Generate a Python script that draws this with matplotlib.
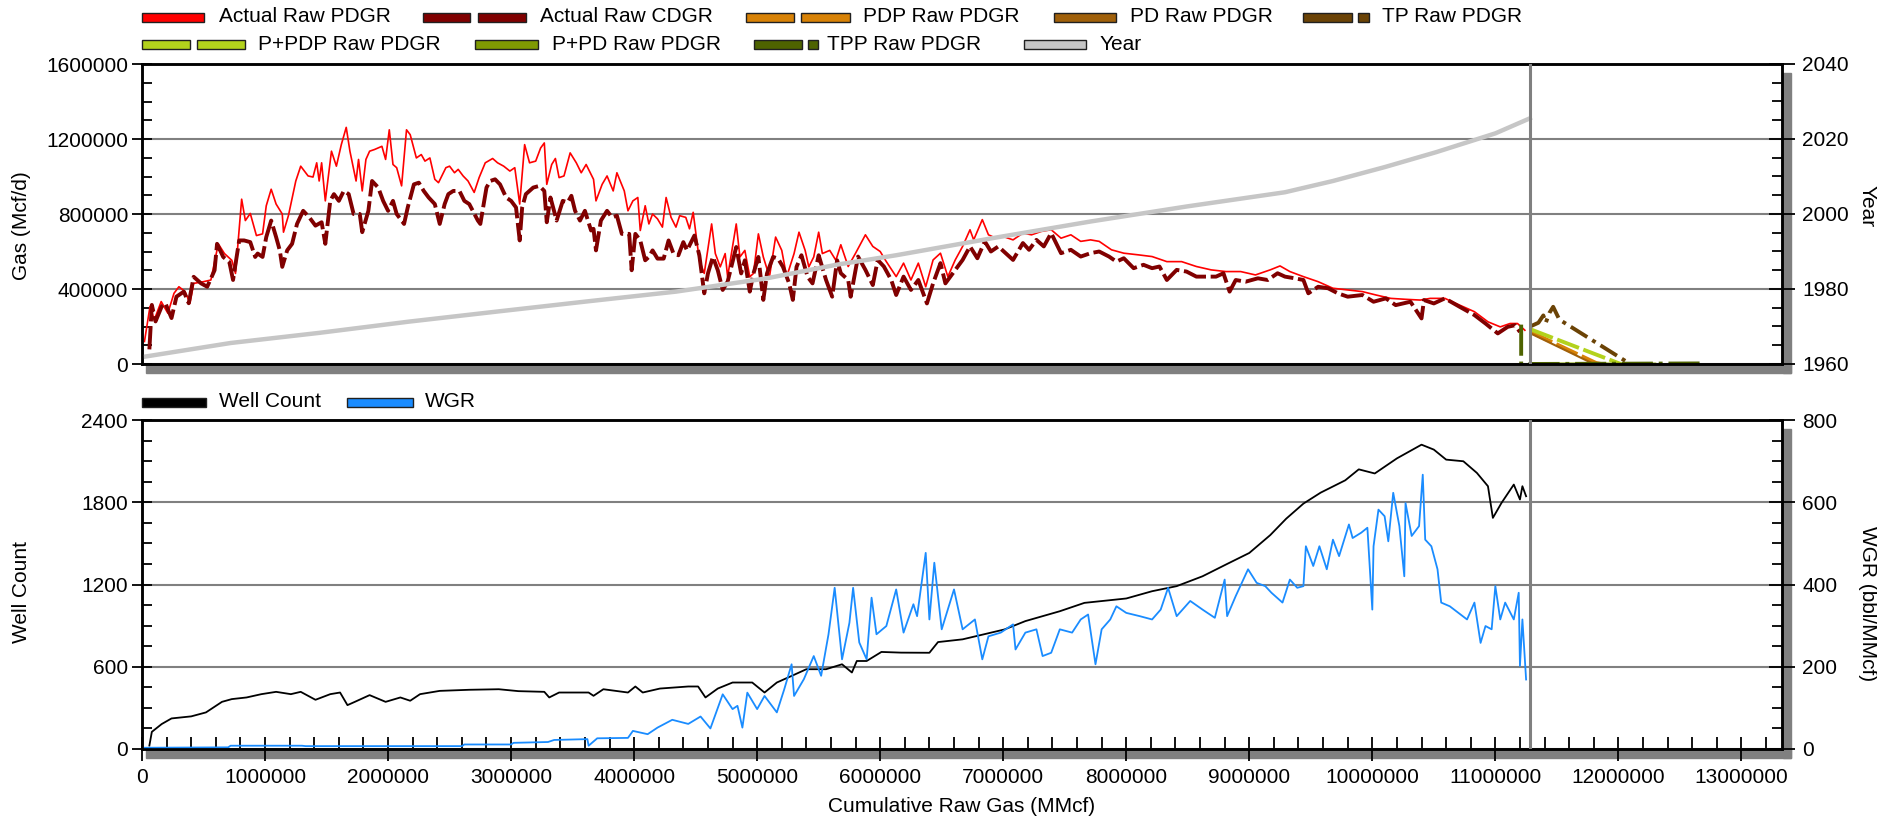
import matplotlib
matplotlib.use("Agg")
import matplotlib.pyplot as plt
from matplotlib.patches import Rectangle
from matplotlib.ticker import MultipleLocator, FuncFormatter

plt.rcParams['font.family'] = ['Liberation Sans', 'DejaVu Sans']
plt.rcParams['font.size'] = 15

# data: (cumulative raw gas in million MMcf, value)
# gas rates in thousand Mcf/d
actual_pdgr = [
    (0.02, 120), (0.065, 307), (0.10, 236), (0.156, 333), (0.21, 271), (0.26, 377), (0.30, 412),
    (0.35, 386), (0.39, 324), (0.42, 430), (0.50, 439), (0.56, 448), (0.62, 641), (0.67, 589),
    (0.73, 553), (0.76, 483), (0.81, 879), (0.84, 765), (0.88, 803), (0.93, 685), (0.98, 694),
    (1.01, 844), (1.05, 932), (1.09, 853), (1.14, 800), (1.15, 703), (1.19, 791), (1.25, 976),
    (1.29, 1055), (1.35, 1003), (1.39, 997), (1.42, 1073), (1.44, 976), (1.46, 1073), (1.49, 870),
    (1.54, 1135), (1.58, 1055), (1.62, 1170), (1.66, 1262), (1.69, 1135), (1.74, 976), (1.76, 1091),
    (1.79, 923), (1.82, 1091), (1.85, 1135), (1.89, 1144), (1.95, 1161), (1.98, 1091), (2.01, 1249),
    (2.04, 1064), (2.07, 1047), (2.11, 950), (2.15, 1249), (2.18, 1223), (2.23, 1099), (2.27, 1117),
    (2.30, 1082), (2.34, 1099), (2.38, 985), (2.41, 967), (2.47, 1047), (2.50, 1055), (2.54, 1020),
    (2.57, 1038), (2.61, 1003), (2.65, 976), (2.70, 915), (2.74, 994), (2.79, 1073), (2.85, 1096),
    (2.89, 1073), (2.94, 1055), (2.99, 1029), (3.03, 1047), (3.07, 853), (3.11, 1170), (3.15, 1073),
    (3.20, 1082), (3.24, 1152), (3.27, 1179), (3.29, 958), (3.33, 1064), (3.36, 1096), (3.39, 994),
    (3.43, 1003), (3.48, 1126), (3.53, 1073), (3.57, 1020), (3.61, 1064), (3.67, 985), (3.69, 870),
    (3.74, 958), (3.78, 1003), (3.83, 923), (3.86, 1020), (3.92, 923), (3.95, 817), (3.99, 870),
    (4.03, 888), (4.05, 712), (4.09, 844), (4.12, 747), (4.15, 800), (4.19, 774), (4.23, 730),
    (4.26, 888), (4.30, 782), (4.34, 730), (4.37, 791), (4.42, 782), (4.45, 721), (4.48, 809),
    (4.53, 553), (4.57, 483), (4.63, 747), (4.66, 589), (4.70, 518), (4.74, 589), (4.76, 465),
    (4.83, 747), (4.86, 571), (4.90, 606), (4.94, 465), (4.97, 483), (5.01, 694), (5.05, 571),
    (5.10, 465), (5.15, 677), (5.20, 606), (5.24, 465), (5.30, 589), (5.34, 703), (5.39, 606),
    (5.42, 518), (5.46, 571), (5.50, 703), (5.53, 589), (5.59, 606), (5.64, 553), (5.68, 636),
    (5.74, 520), (5.80, 591), (5.88, 689), (5.94, 627), (6.00, 600), (6.05, 546), (6.13, 466),
    (6.19, 538), (6.25, 448), (6.31, 538), (6.37, 412), (6.43, 555), (6.49, 591), (6.55, 466),
    (6.61, 555), (6.67, 627), (6.73, 716), (6.76, 662), (6.83, 770), (6.88, 689), (6.94, 671),
    (7.00, 680), (7.08, 662), (7.16, 698), (7.23, 689), (7.31, 707), (7.39, 716), (7.47, 671),
    (7.55, 689), (7.63, 654), (7.71, 662), (7.78, 654), (7.88, 609), (7.98, 591), (8.10, 582),
    (8.21, 573), (8.33, 546), (8.45, 546), (8.57, 520), (8.69, 502), (8.81, 493), (8.93, 493),
    (9.05, 475), (9.17, 502), (9.25, 523), (9.33, 493), (9.44, 466), (9.56, 439), (9.68, 404),
    (9.80, 395), (9.92, 386), (10.03, 368), (10.15, 350), (10.27, 345), (10.39, 341), (10.47, 350),
    (10.59, 350), (10.71, 314), (10.83, 279), (10.94, 225), (11.04, 198), (11.12, 216), (11.18, 216),
    (11.24, 180),
]

actual_cdgr = [
    (0.06, 78), (0.08, 315), (0.11, 227), (0.16, 307), (0.19, 324), (0.24, 245), (0.28, 359),
    (0.34, 386), (0.38, 324), (0.42, 465), (0.48, 430), (0.53, 412), (0.59, 500), (0.61, 641),
    (0.66, 571), (0.71, 544), (0.74, 448), (0.79, 659), (0.83, 659), (0.88, 650), (0.92, 571),
    (0.94, 589), (0.98, 571), (1.01, 677), (1.05, 765), (1.09, 677), (1.12, 606), (1.14, 518),
    (1.18, 606), (1.22, 641), (1.26, 747), (1.31, 817), (1.36, 782), (1.41, 738), (1.46, 756),
    (1.49, 641), (1.53, 870), (1.56, 906), (1.60, 870), (1.64, 923), (1.68, 906), (1.72, 800),
    (1.77, 800), (1.79, 703), (1.84, 817), (1.87, 976), (1.92, 941), (1.96, 870), (2.00, 817),
    (2.04, 870), (2.07, 800), (2.13, 747), (2.16, 835), (2.21, 958), (2.25, 967), (2.29, 923),
    (2.33, 888), (2.38, 853), (2.42, 747), (2.46, 853), (2.49, 906), (2.53, 923), (2.58, 923),
    (2.62, 870), (2.66, 853), (2.73, 765), (2.75, 747), (2.80, 941), (2.83, 976), (2.87, 985),
    (2.91, 958), (2.96, 888), (3.00, 870), (3.04, 835), (3.07, 659), (3.09, 835), (3.12, 906),
    (3.18, 941), (3.23, 950), (3.27, 923), (3.29, 756), (3.32, 888), (3.37, 765), (3.42, 870),
    (3.46, 862), (3.49, 897), (3.52, 817), (3.56, 765), (3.60, 817), (3.65, 712), (3.67, 721),
    (3.69, 606), (3.73, 765), (3.78, 817), (3.82, 782), (3.86, 791), (3.90, 694), (3.96, 694),
    (3.98, 500), (4.01, 694), (4.05, 659), (4.09, 553), (4.12, 571), (4.15, 606), (4.19, 562),
    (4.24, 562), (4.28, 659), (4.32, 589), (4.36, 580), (4.40, 650), (4.43, 606), (4.49, 685),
    (4.53, 580), (4.57, 377), (4.60, 483), (4.64, 571), (4.68, 500), (4.72, 395), (4.76, 439),
    (4.79, 518), (4.83, 624), (4.87, 483), (4.90, 553), (4.94, 386), (4.97, 483), (5.01, 571),
    (5.05, 342), (5.08, 483), (5.13, 571), (5.17, 562), (5.21, 518), (5.26, 430), (5.29, 342),
    (5.32, 518), (5.36, 580), (5.41, 465), (5.45, 430), (5.50, 580), (5.56, 448), (5.61, 359),
    (5.65, 553), (5.68, 484), (5.74, 448), (5.76, 359), (5.82, 573), (5.88, 502), (5.94, 421),
    (5.98, 555), (6.03, 520), (6.09, 448), (6.13, 368), (6.19, 466), (6.25, 395), (6.31, 448),
    (6.38, 323), (6.43, 430), (6.49, 538), (6.53, 430), (6.61, 502), (6.67, 555), (6.73, 627),
    (6.79, 564), (6.85, 654), (6.90, 600), (6.96, 627), (7.02, 591), (7.08, 555), (7.16, 645),
    (7.21, 609), (7.27, 662), (7.33, 627), (7.39, 698), (7.47, 591), (7.55, 609), (7.63, 573),
    (7.71, 591), (7.78, 600), (7.86, 573), (7.92, 546), (7.98, 564), (8.06, 511), (8.14, 529),
    (8.21, 511), (8.27, 520), (8.33, 448), (8.41, 502), (8.49, 493), (8.57, 466), (8.65, 466),
    (8.73, 466), (8.79, 484), (8.84, 386), (8.89, 448), (8.97, 439), (9.07, 457), (9.15, 448),
    (9.23, 484), (9.29, 466), (9.37, 457), (9.44, 448), (9.48, 377), (9.56, 412), (9.64, 404),
    (9.72, 377), (9.80, 359), (9.92, 368), (10.01, 332), (10.11, 350), (10.19, 314), (10.31, 332),
    (10.40, 243), (10.42, 341), (10.50, 323), (10.59, 350), (10.71, 305), (10.83, 261), (10.92, 216),
    (11.02, 163), (11.10, 198), (11.16, 207), (11.20, 171),
]

pdp_pdgr = [(11.29, 170), (11.82, 5), (11.86, 0)]
pd_pdgr = [(11.29, 162), (11.80, 0)]
tp_pdgr = [(11.29, 202), (11.35, 220), (11.39, 259), (11.41, 220), (11.44, 273), (11.47, 305),
           (11.52, 237), (12.06, 15), (12.10, 0)]
p_pdp_pdgr = [(11.29, 184), (11.98, 10), (12.02, 0)]
p_pd_pdgr = [(11.29, 3), (12.30, 2)]
tpp_pdgr = [(11.21, 210), (11.21, 0), (12.68, 3)]

year = [(0.03, 1962), (0.72, 1965.6), (1.44, 1968.3), (2.17, 1971.3), (2.89, 1974), (3.62, 1976.7),
        (4.34, 1979.3), (5.07, 1982.8), (5.65, 1986.5), (6.13, 1989), (6.92, 1993.6), (7.71, 1998),
        (8.10, 2000), (8.49, 2002), (9.29, 2005.8), (9.68, 2008.8), (10.10, 2012.5), (10.52, 2016.5),
        (11.00, 2021.5), (11.28, 2025.5)]

well_count = [
    (0.06, 25), (0.08, 125), (0.16, 182), (0.24, 223), (0.40, 238), (0.52, 267), (0.65, 344),
    (0.73, 364), (0.85, 376), (0.97, 400), (1.09, 417), (1.21, 400), (1.29, 417), (1.41, 359),
    (1.53, 400), (1.61, 412), (1.67, 320), (1.73, 344), (1.85, 393), (1.98, 344), (2.10, 376),
    (2.18, 352), (2.26, 400), (2.42, 424), (2.66, 432), (2.90, 436), (3.06, 422), (3.27, 417),
    (3.31, 376), (3.39, 412), (3.63, 412), (3.67, 388), (3.75, 436), (3.95, 412), (4.01, 456),
    (4.07, 412), (4.21, 441), (4.44, 456), (4.52, 456), (4.58, 376), (4.68, 441), (4.80, 485),
    (4.96, 485), (5.06, 412), (5.16, 485), (5.28, 533), (5.40, 582), (5.56, 582), (5.69, 618),
    (5.77, 558), (5.81, 642), (5.89, 642), (6.01, 708), (6.17, 703), (6.40, 702), (6.47, 780),
    (6.67, 800), (7.01, 872), (7.18, 933), (7.46, 1005), (7.66, 1066), (8.00, 1098), (8.21, 1151),
    (8.41, 1188), (8.62, 1260), (8.82, 1350), (9.00, 1430), (9.17, 1560), (9.30, 1680), (9.44, 1790),
    (9.58, 1870), (9.78, 1960), (9.89, 2040), (10.02, 2010), (10.20, 2120), (10.40, 2220),
    (10.50, 2184), (10.60, 2111), (10.74, 2099), (10.85, 2014), (10.94, 1917), (10.98, 1686),
    (11.05, 1795), (11.15, 1929), (11.20, 1820), (11.22, 1917), (11.25, 1844),
]

wgr = [
    (0.02, 3), (0.70, 4), (0.72, 8), (1.30, 8), (1.33, 7), (2.60, 7), (2.62, 11), (3.00, 11),
    (3.02, 15), (3.30, 17), (3.35, 22), (3.62, 24), (3.63, 8), (3.70, 26), (3.95, 27), (3.99, 44),
    (4.11, 36), (4.19, 52), (4.31, 71), (4.44, 61), (4.54, 79), (4.62, 50), (4.72, 133), (4.80, 97),
    (4.84, 105), (4.88, 52), (4.92, 137), (5.00, 97), (5.06, 129), (5.16, 89), (5.22, 145),
    (5.28, 206), (5.30, 129), (5.38, 170), (5.46, 226), (5.52, 178), (5.58, 279), (5.63, 392),
    (5.69, 218), (5.75, 307), (5.78, 392), (5.83, 259), (5.89, 218), (5.93, 368), (5.97, 279),
    (6.05, 299), (6.13, 388), (6.19, 283), (6.27, 352), (6.30, 323), (6.37, 477), (6.40, 315),
    (6.44, 453), (6.50, 291), (6.60, 388), (6.67, 291), (6.77, 315), (6.83, 218), (6.88, 274),
    (6.98, 283), (7.08, 303), (7.10, 242), (7.18, 283), (7.27, 291), (7.32, 226), (7.39, 234),
    (7.46, 291), (7.56, 283), (7.63, 315), (7.69, 327), (7.75, 206), (7.80, 291), (7.87, 315),
    (7.92, 347), (8.00, 331), (8.11, 323), (8.21, 315), (8.28, 339), (8.34, 392), (8.41, 323),
    (8.52, 360), (8.62, 339), (8.72, 319), (8.80, 412), (8.82, 323), (8.89, 372), (8.99, 437),
    (9.06, 404), (9.13, 396), (9.18, 380), (9.27, 356), (9.33, 412), (9.39, 392), (9.44, 396),
    (9.46, 493), (9.52, 445), (9.57, 493), (9.63, 437), (9.68, 509), (9.73, 469), (9.81, 546),
    (9.84, 513), (9.91, 526), (9.96, 538), (10.00, 339), (10.01, 493), (10.05, 582), (10.10, 566),
    (10.13, 505), (10.17, 623), (10.22, 542), (10.26, 420), (10.27, 598), (10.32, 518), (10.38, 542),
    (10.41, 667), (10.43, 509), (10.48, 493), (10.53, 437), (10.56, 356), (10.63, 347), (10.70, 331),
    (10.77, 315), (10.83, 356), (10.88, 258), (10.92, 299), (10.97, 291), (11.00, 396), (11.04, 315),
    (11.08, 356), (11.15, 315), (11.19, 380), (11.20, 202), (11.22, 315), (11.25, 169),
]

forecast_start = 11.28

W, H = 1877, 817


def gx(pairs):
    return [p[0] * 1e6 for p in pairs]


def gy(pairs, scale=1.0):
    return [p[1] * scale for p in pairs]


def px_rect(x0, y0, x1, y1):
    # figure-fraction box from pixel coords (y measured from the top)
    return [x0 / W, 1 - y1 / H, (x1 - x0) / W, (y1 - y0) / H]


fig = plt.figure(figsize=(W / 100, H / 100), dpi=100)

# drop shadows behind both panels
for top, bot in [(64, 364), (420, 749)]:
    fig.add_artist(Rectangle((1783 / W, 1 - (bot + 9) / H), 8 / W, (bot - top) / H,
                             transform=fig.transFigure, color='#808080', zorder=-1))
    fig.add_artist(Rectangle((146 / W, 1 - (bot + 9) / H), (1791 - 146) / W, 9 / H,
                             transform=fig.transFigure, color='#808080', zorder=-1))

ax1 = fig.add_axes(px_rect(142, 64, 1782, 364))
ax2 = fig.add_axes(px_rect(142, 420, 1782, 749), sharex=ax1)
ax1r = ax1.twinx()
ax2r = ax2.twinx()

k = 1000.0
ax1.plot(gx(actual_pdgr), gy(actual_pdgr, k), color='#ff0000', lw=1.2)
ax1.plot(gx(actual_cdgr), gy(actual_cdgr, k), color='#800000', lw=2.8, dashes=(6, 1.2))
ax1.plot(gx(pdp_pdgr), gy(pdp_pdgr, k), color='#d88206', lw=2.8, dashes=(6, 1.2))
ax1.plot(gx(pd_pdgr), gy(pd_pdgr, k), color='#a0600a', lw=1.5)
ax1.plot(gx(tp_pdgr), gy(tp_pdgr, k), color='#6b4306', lw=2.8, dashes=(5, 1.5, 1, 1.5))
ax1.plot(gx(p_pdp_pdgr), gy(p_pdp_pdgr, k), color='#b3d21c', lw=2.8, dashes=(6, 1.2))
ax1.plot(gx(p_pd_pdgr), gy(p_pd_pdgr, k), color='#7f9a02', lw=1.5)
ax1.plot(gx(tpp_pdgr), gy(tpp_pdgr, k), color='#4e6300', lw=2.8, dashes=(8, 1.5, 1, 1.5))
ax1r.plot(gx(year), gy(year), color='#c6c6c6', lw=3.2)

ax2.plot(gx(well_count), gy(well_count), color='black', lw=1.3)
ax2r.plot(gx(wgr), gy(wgr), color='#1a8cff', lw=1.3)

for a in (ax1r, ax2r):
    a.axvline(forecast_start * 1e6, color='#808080', lw=2.2, zorder=10)

ax1.set_xlim(0, 13.33e6)
ax1.set_ylim(0, 1.6e6)
ax1r.set_ylim(1960, 2040)
ax2.set_ylim(0, 2400)
ax2r.set_ylim(0, 800)

plain = FuncFormatter(lambda v, p: f'{v:.0f}')
ax1.yaxis.set_major_locator(MultipleLocator(400000))
ax1.yaxis.set_minor_locator(MultipleLocator(100000))
ax1r.yaxis.set_major_locator(MultipleLocator(20))
ax1r.yaxis.set_minor_locator(MultipleLocator(5))
ax2.yaxis.set_major_locator(MultipleLocator(600))
ax2.yaxis.set_minor_locator(MultipleLocator(150))
ax2r.yaxis.set_major_locator(MultipleLocator(200))
ax2r.yaxis.set_minor_locator(MultipleLocator(50))
ax2.xaxis.set_major_locator(MultipleLocator(1000000))
ax2.xaxis.set_minor_locator(MultipleLocator(200000))
for a in (ax1, ax1r, ax2, ax2r):
    a.yaxis.set_major_formatter(plain)
ax2.xaxis.set_major_formatter(plain)

for a in (ax1, ax2):
    a.yaxis.grid(True, which='major', color='#808080', lw=1.5)
    a.set_axisbelow(True)
    a.tick_params(axis='y', which='major', direction='inout', length=14, width=1.3, pad=3)
    a.tick_params(axis='y', which='minor', direction='in', length=7, width=1.3)
for a in (ax1r, ax2r):
    a.tick_params(axis='y', which='major', direction='inout', length=19, width=1.3, pad=5)
    a.tick_params(axis='y', which='minor', direction='in', length=7, width=1.3)
ax1.tick_params(axis='x', which='both', bottom=False, labelbottom=False)
ax2.tick_params(axis='x', which='major', direction='inout', length=17, width=1.3, pad=5)
ax2.tick_params(axis='x', which='minor', direction='in', length=9, width=1.3)

for a in (ax1, ax1r, ax2, ax2r):
    for s in a.spines.values():
        s.set_linewidth(1.8)
        s.set_color('black')

# axis titles
fig.text(22 / W, 1 - 226 / H, 'Gas (Mcf/d)', rotation=90, ha='center', va='center')
fig.text(1867 / W, 1 - 206 / H, 'Year', rotation=270, ha='center', va='center')
fig.text(22 / W, 1 - 592 / H, 'Well Count', rotation=90, ha='center', va='center')
fig.text(1867 / W, 1 - 604 / H, 'WGR (bbl/MMcf)', rotation=270, ha='center', va='center')
fig.text(962 / W, 1 - 806 / H, 'Cumulative Raw Gas (MMcf)', ha='center', va='center')

# legends drawn as outlined swatches, like the source chart
legend_items = [
    ('Actual Raw PDGR', '#ff0000', [(142, 204)], 219, 17),
    ('Actual Raw CDGR', '#800000', [(423, 470), (478, 526)], 540, 17),
    ('PDP Raw PDGR', '#d88206', [(746, 794), (801, 850)], 863, 17),
    ('PD Raw PDGR', '#a0600a', [(1054, 1116)], 1130, 17),
    ('TP Raw PDGR', '#6b4306', [(1303, 1352), (1358, 1369)], 1382, 17),
    ('P+PDP Raw PDGR', '#b3d21c', [(142, 190), (197, 245)], 258, 44),
    ('P+PD Raw PDGR', '#7f9a02', [(475, 538)], 552, 44),
    ('TPP Raw PDGR', '#4e6300', [(754, 802), (808, 818)], 827, 44),
    ('Year', '#c6c6c6', [(1024, 1086)], 1100, 44),
    ('Well Count', '#000000', [(142, 206)], 219, 402),
    ('WGR', '#1a8cff', [(347, 413)], 425, 402),
]
for label, color, segs, tx, yc in legend_items:
    for x0, x1 in segs:
        fig.add_artist(Rectangle((x0 / W, 1 - (yc + 4.5) / H), (x1 - x0) / W, 9 / H,
                                 transform=fig.transFigure, facecolor=color,
                                 edgecolor='#202020', lw=1.0))
    fig.text(tx / W, 1 - yc / H, label, ha='left', va='center')

fig.savefig('out.png', dpi=100)
